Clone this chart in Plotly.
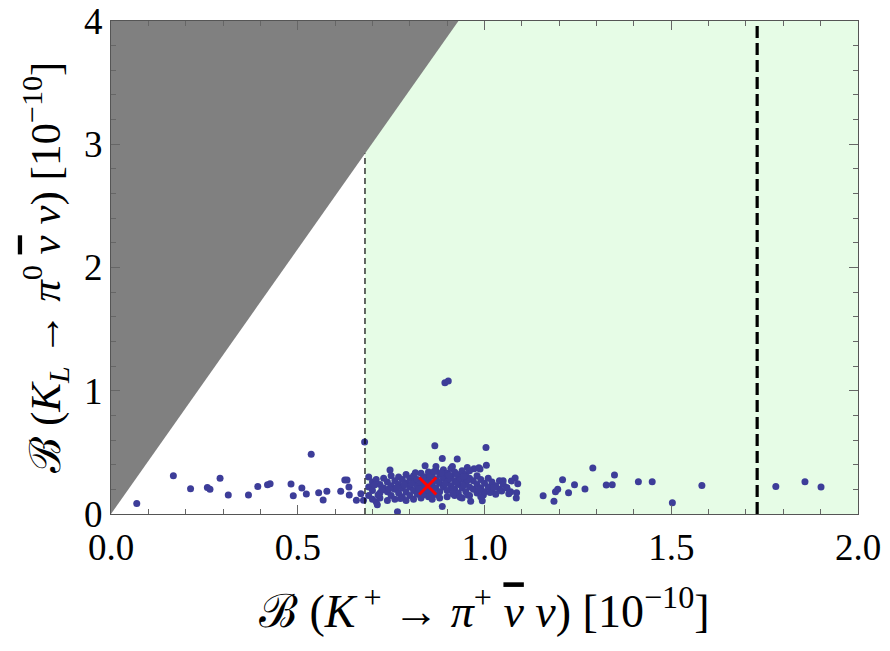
import plotly.graph_objects as go

# ---- data ----
GN_SLOPE = 4.3          # Grossman-Nir bound: B(KL) < 4.3 B(K+)
KP_LOWER = 0.68         # lower edge of allowed K+ band
KP_UPPER = 1.73         # experimental upper bound (thick dashed)
X_MAX, Y_MAX = 2.0, 4.0

outlier_pts = [
    (0.069, 0.086), (0.167, 0.31), (0.213, 0.205), (0.258, 0.216), (0.265, 0.2), (0.292, 0.29),
    (0.314, 0.154), (0.368, 0.154), (0.393, 0.224), (0.419, 0.238), (0.426, 0.246), (0.482, 0.243),
    (0.488, 0.149), (0.511, 0.211), (0.523, 0.162), (0.536, 0.484), (0.556, 0.173), (0.568, 0.114),
    (0.578, 0.184), (0.615, 0.184), (0.626, 0.276), (0.632, 0.276), (0.637, 0.219), (0.638, 0.154),
    (0.657, 0.111), (0.669, 0.165), (0.676, 0.111), (0.679, 0.584),
    (0.894, 1.065), (0.903, 1.08), (0.867, 0.554), (1.004, 0.54), (0.887, 0.45), (0.927, 0.446),
    (0.767, 0.019), (0.887, 0.06), (0.841, 0.392), (0.870, 0.386), (1.005, 0.395), (0.747, 0.357),
    (0.914, 0.386), (0.954, 0.378), (0.972, 0.368), (0.713, 0.076), (0.963, 0.103), (0.985, 0.376),
    (0.988, 0.365), (0.994, 0.108),
    (0.997, 0.154), (1.082, 0.292), (1.089, 0.246), (1.050, 0.27), (1.046, 0.186), (1.065, 0.165),
    (1.085, 0.13), (1.086, 0.173), (1.072, 0.268), (1.06, 0.214), (1.07, 0.181),
    (1.157, 0.149), (1.186, 0.103), (1.190, 0.181), (1.196, 0.2), (1.209, 0.278), (1.225, 0.173),
    (1.241, 0.238), (1.269, 0.203), (1.290, 0.373), (1.326, 0.235), (1.342, 0.238), (1.348, 0.316),
    (1.412, 0.262), (1.449, 0.262), (1.503, 0.092), (1.582, 0.232), (1.780, 0.224), (1.858, 0.262),
    (1.901, 0.219),
]

blob_pts = [
    (0.69, 0.30), (0.70, 0.26), (0.69, 0.22), (0.70, 0.19), (0.69, 0.15), (0.70, 0.12), (0.71, 0.28),
    (0.71, 0.10), (0.72, 0.24), (0.72, 0.17), (0.72, 0.13), (0.73, 0.29), (0.73, 0.21), (0.74, 0.26),
    (0.74, 0.18), (0.74, 0.11), (0.75, 0.31), (0.75, 0.23), (0.75, 0.15), (0.76, 0.27), (0.76, 0.20),
    (0.76, 0.12), (0.77, 0.30), (0.77, 0.24), (0.77, 0.17), (0.78, 0.28), (0.78, 0.21), (0.78, 0.14),
    (0.79, 0.32), (0.79, 0.25), (0.79, 0.18), (0.79, 0.11), (0.80, 0.29), (0.80, 0.22), (0.80, 0.15),
    (0.81, 0.31), (0.81, 0.26), (0.81, 0.19), (0.81, 0.12), (0.82, 0.28), (0.82, 0.23), (0.82, 0.16),
    (0.83, 0.33), (0.83, 0.25), (0.83, 0.20), (0.83, 0.13), (0.84, 0.30), (0.84, 0.22), (0.84, 0.17),
    (0.85, 0.27), (0.85, 0.19), (0.85, 0.14), (0.85, 0.34), (0.86, 0.31), (0.86, 0.24), (0.86, 0.16),
    (0.86, 0.12), (0.87, 0.28), (0.87, 0.21), (0.87, 0.35), (0.88, 0.32), (0.88, 0.25), (0.88, 0.18),
    (0.88, 0.13), (0.89, 0.29), (0.89, 0.22), (0.89, 0.36), (0.90, 0.33), (0.90, 0.26), (0.90, 0.19),
    (0.90, 0.14), (0.91, 0.30), (0.91, 0.23), (0.91, 0.37), (0.92, 0.34), (0.92, 0.27), (0.92, 0.20),
    (0.92, 0.15), (0.93, 0.31), (0.93, 0.24), (0.93, 0.17), (0.94, 0.35), (0.94, 0.28), (0.94, 0.21),
    (0.94, 0.13), (0.95, 0.32), (0.95, 0.25), (0.95, 0.18), (0.96, 0.29), (0.96, 0.22), (0.96, 0.15),
    (0.96, 0.35), (0.97, 0.27), (0.97, 0.20), (0.98, 0.31), (0.98, 0.24), (0.98, 0.17), (0.99, 0.28),
    (0.99, 0.21), (0.99, 0.14), (1.00, 0.25), (1.00, 0.18), (1.01, 0.29), (1.01, 0.22), (1.02, 0.26),
    (1.02, 0.19), (1.03, 0.23), (1.03, 0.16), (1.04, 0.27), (1.04, 0.20), (1.05, 0.24), (1.06, 0.21),
    (0.845, 0.245), (0.865, 0.205), (0.875, 0.265), (0.895, 0.245), (0.905, 0.285), (0.915, 0.205),
    (0.925, 0.255), (0.935, 0.295), (0.945, 0.235), (0.955, 0.275), (0.805, 0.245), (0.825, 0.205),
    (0.785, 0.235), (0.765, 0.215), (0.745, 0.205), (0.725, 0.195), (0.705, 0.235), (0.835, 0.285),
    (0.855, 0.305), (0.885, 0.335), (0.905, 0.315), (0.925, 0.325), (0.945, 0.305),
    (0.815, 0.335), (0.875, 0.155), (0.915, 0.165), (0.955, 0.155), (0.985, 0.195), (1.015, 0.175),
    (0.775, 0.125), (0.835, 0.155), (0.865, 0.345), (0.935, 0.135), (1.025, 0.215), (0.715, 0.155),
]

sm_point = (0.848, 0.227)   # red cross

kp_values = [p[0] for p in outlier_pts + blob_pts]
kl_values = [p[1] for p in outlier_pts + blob_pts]

x_ticks = [0.0, 0.5, 1.0, 1.5, 2.0]
x_tick_labels = ["0.0", "0.5", "1.0", "1.5", "2.0"]
y_ticks = [0, 1, 2, 3, 4]
y_tick_labels = ["0", "1", "2", "3", "4"]

FONT = "Liberation Serif, Times New Roman, serif"
DOT = "#3d3d99"

fig = go.Figure()

fig.add_trace(go.Scatter(
    x=kp_values, y=kl_values, mode="markers",
    marker=dict(size=7, color=DOT, line=dict(width=0)),
    showlegend=False, hoverinfo="skip", cliponaxis=True,
))
fig.add_trace(go.Scatter(
    x=[sm_point[0]], y=[sm_point[1]], mode="markers",
    marker=dict(symbol="x-thin", size=17, line=dict(width=3, color="#ff0000"), color="#ff0000"),
    showlegend=False, hoverinfo="skip",
))

shapes = [
    dict(type="rect", xref="x", yref="y", x0=KP_LOWER, x1=X_MAX, y0=0, y1=Y_MAX,
         fillcolor="#e6fce6", line=dict(width=0), layer="below"),
    dict(type="path", xref="x", yref="y",
         path=f"M 0 0 L {Y_MAX / GN_SLOPE} {Y_MAX} L 0 {Y_MAX} Z",
         fillcolor="#808080", line=dict(width=0), layer="below"),
    dict(type="line", xref="x", yref="y", x0=KP_LOWER, x1=KP_LOWER, y0=0, y1=GN_SLOPE * KP_LOWER,
         line=dict(color="black", width=1.2, dash="6px,4px"), layer="above"),
    dict(type="line", xref="x", yref="y", x0=KP_UPPER, x1=KP_UPPER, y0=0, y1=Y_MAX,
         line=dict(color="black", width=3.2, dash="12px,5px"), layer="above"),
]

axis_common = dict(
    showgrid=False, zeroline=False, showline=True, linecolor="#555555", linewidth=1.2,
    mirror="ticks", ticks="inside", ticklen=9, tickwidth=1, tickcolor="#666666",
    tickfont=dict(family=FONT, size=37, color="black"), automargin=False,
    ticklabeloverflow="allow",
)

NUBAR = '<span style="text-decoration:overline">ν</span>'
fig.update_layout(
    width=890, height=651,
    margin=dict(l=111, r=32, t=21, b=137),
    plot_bgcolor="white", paper_bgcolor="white",
    shapes=shapes,
    xaxis=dict(range=[0, X_MAX], tickvals=x_ticks, ticktext=x_tick_labels,
               minor=dict(dtick=0.1, ticklen=5, ticks="inside", tickcolor="#666666", tick0=0),
               **axis_common),
    yaxis=dict(range=[0, Y_MAX], tickvals=y_ticks, ticktext=y_tick_labels,
               minor=dict(dtick=0.2, ticklen=5, ticks="inside", tickcolor="#666666", tick0=0),
               **axis_common),
    annotations=[
        dict(xref="paper", yref="paper", x=0.5, y=-0.19, xanchor="center", yanchor="middle",
             showarrow=False,
             text=f"ℬ (<i>K</i><sup> +</sup> → <i>π</i><sup>+</sup> <i>{NUBAR}</i> <i>ν</i>) [10<sup>−10</sup>]",
             font=dict(family=FONT, size=46, color="black")),
        dict(xref="paper", yref="paper", x=-0.088, y=0.5, xanchor="center", yanchor="middle",
             showarrow=False, textangle=-90,
             text=f"ℬ (<i>K<sub>L</sub></i> → <i>π</i><sup>0</sup> <i>{NUBAR}</i> <i>ν</i>) [10<sup>−10</sup>]",
             font=dict(family=FONT, size=43, color="black")),
    ],
)

fig.write_html("out.html", post_script="document.body.style.margin='0px';",
               config={"displayModeBar": False})
